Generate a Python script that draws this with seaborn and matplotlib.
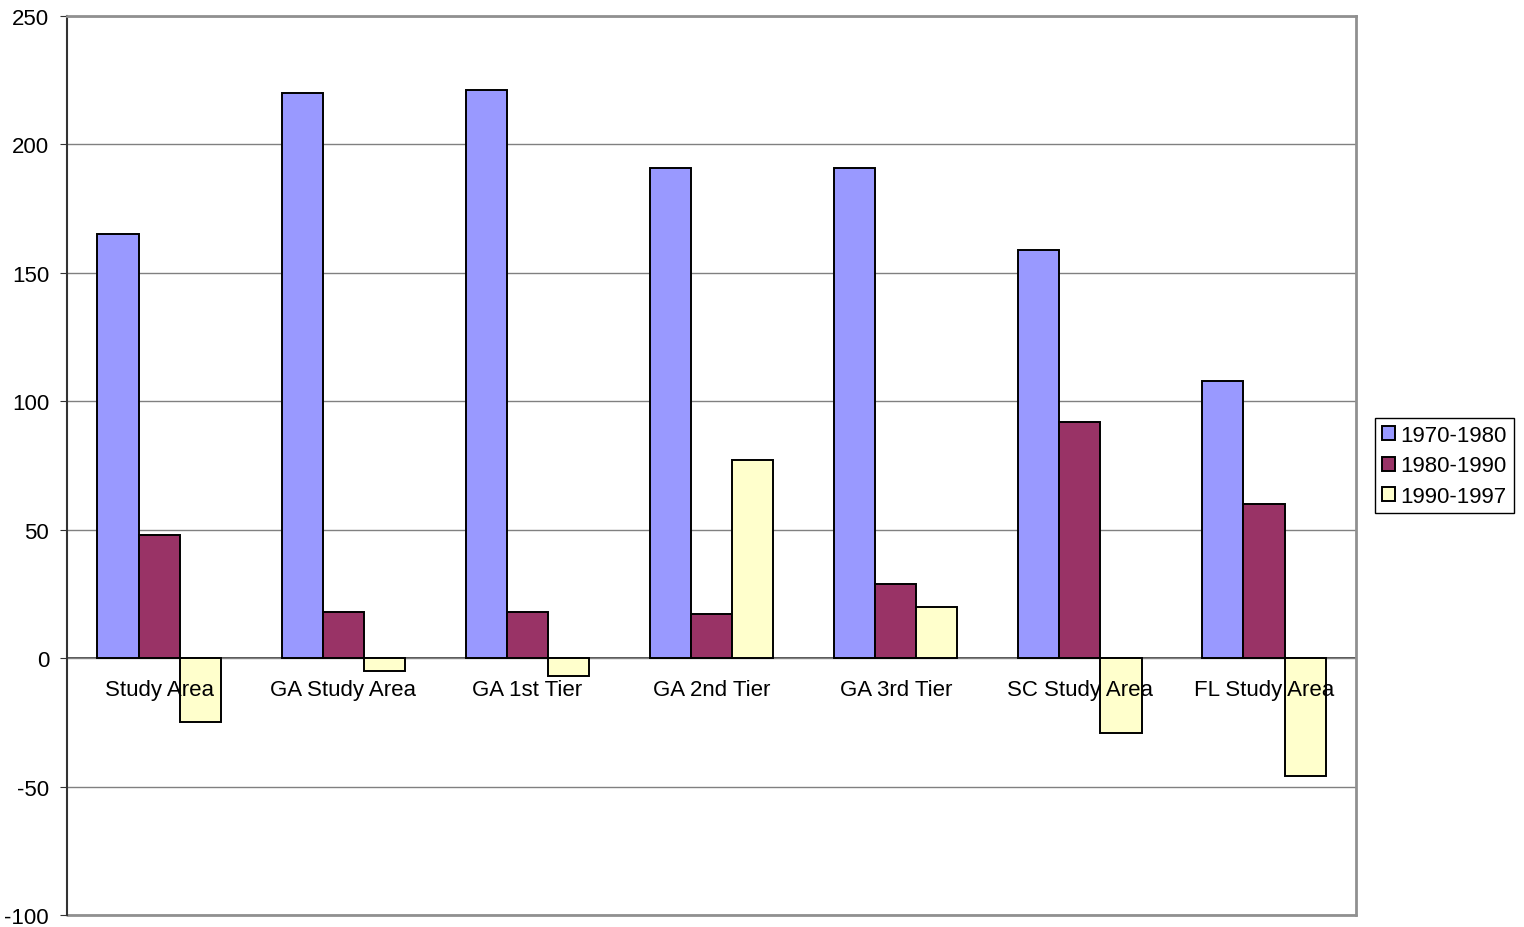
import pandas as pd
import matplotlib
matplotlib.use('Agg')
import matplotlib.pyplot as plt
import seaborn as sns

## chart data
areas = ['Study Area', 'GA Study Area', 'GA 1st Tier', 'GA 2nd Tier',
         'GA 3rd Tier', 'SC Study Area', 'FL Study Area']
periods = ['1970-1980', '1980-1990', '1990-1997']
vals_1970_1980 = [165, 220, 221, 191, 191, 159, 108]
vals_1980_1990 = [48, 18, 18, 17, 29, 92, 60]
vals_1990_1997 = [-25, -5, -7, 77, 20, -29, -46]
colors = ['#9999FF', '#993366', '#FFFFCC']
yticks = [-100, -50, 0, 50, 100, 150, 200, 250]

# long format table for seaborn
rows = []
for period, vals in zip(periods, [vals_1970_1980, vals_1980_1990, vals_1990_1997]):
    for area, v in zip(areas, vals):
        rows.append({'area': area, 'period': period, 'value': v})
df = pd.DataFrame(rows)

sns.set_style('white')
plt.rcParams['font.family'] = ['Liberation Sans', 'DejaVu Sans']
plt.rcParams['text.color'] = 'black'

fig = plt.figure(figsize=(15.24, 9.28), dpi=100)
ax = fig.add_axes([0.044, 0.0129, 0.8458, 0.9688])

sns.barplot(data=df, x='area', y='value', hue='period', order=areas,
            hue_order=periods, palette=colors, edgecolor='black',
            linewidth=1.4, width=0.67, gap=0, ax=ax, errorbar=None,
            saturation=1)

ax.set_ylim(-100, 250)
ax.set_xlim(-0.5, len(areas) - 0.5)
ax.set_yticks(yticks)
ax.set_yticklabels([str(t) for t in yticks], fontsize=16)
ax.set_xlabel('')
ax.set_ylabel('')

# gridlines below the bars
ax.yaxis.grid(True, color='#808080', linewidth=1)
ax.set_axisbelow(True)
# x labels drawn over the bars, like the original
ax.xaxis.set_zorder(5)

# spines
ax.spines['left'].set_color('#333333')
ax.spines['left'].set_linewidth(1.5)
ax.spines['top'].set_color('#909090')
ax.spines['top'].set_linewidth(2)
ax.spines['right'].set_color('#909090')
ax.spines['right'].set_linewidth(2)
ax.spines['bottom'].set_position(('data', 0))
ax.spines['bottom'].set_color('#333333')
ax.spines['bottom'].set_linewidth(1.2)
ax.spines['bottom'].set_zorder(0.5)
ax.axhline(-100, color='#909090', linewidth=2, clip_on=False, zorder=0.6)

# x ticks: labels at centres, tick marks at category boundaries
ax.set_xticks(range(len(areas)))
ax.set_xticklabels(areas, fontsize=16)
ax.set_xticks([i + 0.5 for i in range(len(areas) - 1)], minor=True)
ax.tick_params(axis='x', which='major', length=0, pad=15, labelcolor='black')
ax.tick_params(axis='x', which='minor', length=5, color='#333333', direction='out')
ax.tick_params(axis='y', which='major', length=5, color='#333333', direction='out',
               left=True, pad=8, labelcolor='black')

leg = ax.legend(loc='center left', bbox_to_anchor=(0.9022, 0.4968), bbox_transform=fig.transFigure,
                fontsize=16, frameon=True, fancybox=False, framealpha=1,
                edgecolor='black', handlelength=0.6, handleheight=0.6,
                handletextpad=0.25, borderpad=0.3, labelspacing=0.42,
                borderaxespad=0)
leg.get_frame().set_linewidth(1)
for t in leg.get_texts():
    t.set_color('black')

fig.savefig('out.png', dpi=100)
